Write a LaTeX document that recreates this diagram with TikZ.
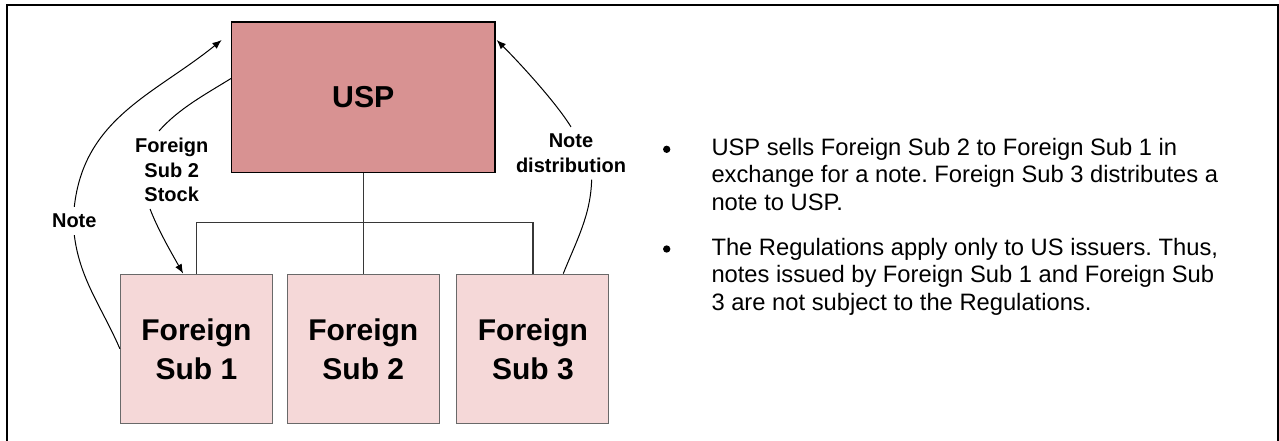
\documentclass[tikz,border=0pt]{standalone}
\usepackage{fontspec}
\setmainfont{Liberation Sans}
\usetikzlibrary{arrows.meta}
\frenchspacing

\definecolor{uspfill}{RGB}{216,146,146}
\definecolor{subfill}{RGB}{245,216,216}
\definecolor{subgray}{RGB}{105,105,105}
\definecolor{busgray}{RGB}{55,55,55}

\tikzset{every picture/.style={line width=0.75pt}}
\tikzset{
  uspbox/.style={draw=black, line width=1pt, fill=uspfill, minimum width=197.7pt, minimum height=112.7pt, inner sep=0pt, font=\bfseries\fontsize{22.7}{27}\selectfont},
  subbox/.style={draw=subgray, fill=subfill, minimum width=114pt, minimum height=112.1pt, inner sep=0pt, align=center, font=\bfseries\fontsize{22.5}{29.25}\selectfont},
  flowlbl/.style={inner xsep=2pt, inner ysep=5pt, align=center, font=\bfseries\fontsize{15}{18.4}\selectfont},
  flowarr/.style={-{Latex[length=7pt,width=5.5pt]}},
  busline/.style={draw=busgray, line width=1pt},
  itemtxt/.style={anchor=north west, inner sep=0pt, align=left, font=\fontsize{17.8}{20.6}\selectfont},
  itemdot/.style={circle, fill=black, inner sep=0pt, minimum size=5.5pt}
}

\begin{document}
\begin{tikzpicture}[x=0.75pt,y=0.75pt,yscale=-1,xscale=1]
\useasboundingbox (0,0) rectangle (1279,440);

%Frame
\draw [line width=1.5pt] (7,450) -- (7,5) -- (1278,5) -- (1278,450) ;

%Shape: Rectangle [USP]
\node [uspbox] (usp) at (363.3,97.2) {USP};
%Shape: Rectangle [Foreign Subs]
\node [subbox] (sub1) at (196.4,348.8) {Foreign\\Sub 1};
\node [subbox] (sub2) at (363.3,348.8) {Foreign\\Sub 2};
\node [subbox] (sub3) at (532.9,348.8) {Foreign\\Sub 3};

%Straight Lines
\coordinate (busMid) at (363.3,222.7);
\draw [busline] (usp.south) -- (sub2.north) ;
\draw [busline] (sub1.north) |- (busMid) -| (sub3.north) ;

% Text Node
\node [flowlbl] (lblNote) at (74.3,221) {Note};
% Text Node
\node [flowlbl] (lblStock) at (171.7,170) {Foreign\\Sub 2\\Stock};
% Text Node
\node [flowlbl] (lblDist) at (571,153.3) {Note\\distribution};

%Curve Lines
\coordinate (noteTip) at (221.7,40);
\coordinate (distTip) at (496.7,40);
\draw (sub1.west) .. controls (102.1,307.5) and (79.8,279.7) .. (lblNote.south) ;
\draw [flowarr] (lblNote.north) .. controls (84,118) and (155,94) .. (noteTip) ;
\draw (usp.172) .. controls (205.4,94.3) and (178.6,108.7) .. (lblStock.108) ;
\draw [flowarr] (lblStock.241) .. controls (158.6,230.9) and (171.1,252.2) .. (sub1.100) ;
\draw (sub3.68) .. controls (576.4,240.9) and (590.8,215) .. (lblDist.-52) ;
\draw [flowarr] (lblDist.north) .. controls (555.1,101.2) and (517.9,61.2) .. (distTip) ;

% Text Node
\node [itemdot] (dot1) at (666.7,149.3) {};
\node [itemtxt] (item1) at (711,137.8) {USP sells Foreign Sub 2 to Foreign Sub 1 in\\exchange for a note. Foreign Sub 3 distributes a\\note to USP.};
% Text Node
\node [itemdot] (dot2) at (666.7,249) {};
\node [itemtxt] (item2) at (711,237.8) {The Regulations apply only to US issuers. Thus,\\notes issued by Foreign Sub 1 and Foreign Sub\\3 are not subject to the Regulations.};
\end{tikzpicture}
\end{document}
